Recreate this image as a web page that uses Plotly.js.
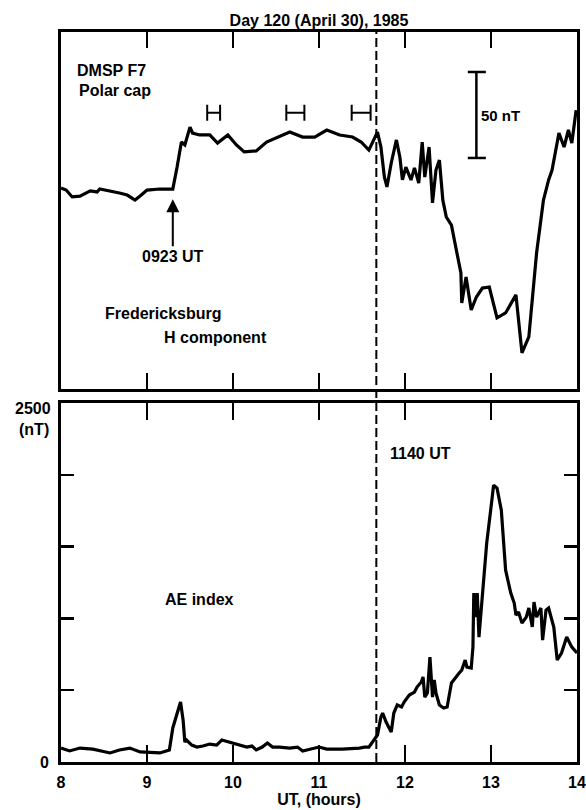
<!DOCTYPE html>
<html>
<head>
<meta charset="utf-8">
<script src="https://cdn.plot.ly/plotly-3.0.1.min.js"></script>
<style>html,body{margin:0;padding:0;background:#fff;}#chart{width:586px;height:810px;}</style>
</head>
<body>
<div id="chart"></div>
<script>
// ---- Fredericksburg H component (relative nT, 0 = bottom of panel) ----
const frHours = [8.00,8.06,8.13,8.22,8.34,8.42,8.45,8.57,8.68,8.77,8.86,8.92,9.00,9.15,9.30,9.35,9.40,9.44,9.47,9.50,9.53,9.61,9.73,9.82,9.94,10.04,10.13,10.27,10.39,10.54,10.66,10.81,10.95,11.09,11.24,11.39,11.49,11.58,11.68,11.72,11.76,11.79,11.84,11.90,11.94,11.97,12.01,12.07,12.11,12.16,12.20,12.23,12.28,12.32,12.36,12.40,12.44,12.48,12.54,12.59,12.65,12.66,12.71,12.77,12.83,12.90,12.98,13.07,13.17,13.29,13.36,13.44,13.53,13.61,13.67,13.71,13.79,13.85,13.90,13.94,13.99];
const frH = [117.1,115.9,111.9,112.4,115.4,114.8,116.5,115.4,114.2,113.0,110.1,112.4,115.9,116.5,116.5,129.3,143.9,142.2,148.0,152.6,149.1,148.0,148.0,143.3,148.0,142.2,138.1,138.7,143.9,147.4,149.7,146.8,146.8,150.9,148.0,146.8,143.9,139.2,149.7,141.0,123.5,117.7,131.7,145.1,135.2,121.8,129.3,121.8,128.8,120.0,143.9,123.5,141.0,108.4,127.6,133.4,110.0,100.2,95.5,82.7,67.6,50.1,65.3,46.0,53.6,58.8,59.4,41.4,44.3,54.8,21.0,30.3,79.2,110.1,121.8,127.6,149.1,141.0,150.9,143.3,162.5];

// ---- AE index (nT) ----
const aeHours = [8.00,8.10,8.22,8.37,8.57,8.68,8.80,8.92,9.15,9.26,9.30,9.36,9.39,9.42,9.44,9.46,9.52,9.58,9.65,9.73,9.81,9.87,9.96,10.08,10.16,10.22,10.27,10.34,10.40,10.46,10.54,10.66,10.75,10.81,10.89,11.00,11.09,11.27,11.47,11.53,11.58,11.64,11.68,11.72,11.74,11.78,11.84,11.87,11.91,11.96,11.99,12.05,12.11,12.14,12.19,12.21,12.23,12.26,12.29,12.32,12.34,12.36,12.40,12.45,12.49,12.54,12.59,12.63,12.66,12.70,12.72,12.77,12.79,12.80,12.83,12.84,12.86,12.90,12.95,13.01,13.03,13.07,13.12,13.17,13.23,13.27,13.29,13.32,13.36,13.41,13.44,13.48,13.50,13.53,13.58,13.60,13.64,13.67,13.73,13.77,13.82,13.88,13.94,14.00];
const aeValues = [97,77,97,90,63,84,97,70,63,84,237,362,418,292,139,153,118,104,111,125,118,153,139,118,104,111,84,104,132,104,104,97,104,77,90,104,90,90,97,104,104,153,188,313,341,278,209,341,397,383,418,466,487,522,557,592,452,480,731,452,571,480,397,376,383,550,592,620,640,710,661,654,800,1176,1009,1176,870,1176,1524,1823,1928,1907,1754,1336,1176,1107,1023,1044,967,1009,1072,940,1114,1009,1072,849,1058,1072,940,710,759,870,800,759];

// ---- DMSP F7 polar-cap pass intervals (UT hours) ----
const passStart = [9.70, 10.62, 11.38];
const passEnd   = [9.85, 10.83, 11.60];

// ---- axis ticks ----
const xTicks = [8, 9, 10, 11, 12, 13, 14];
const xTickText = ['8', '9', '10', '11', '12', '13', '14'];
const aeTicks = [0, 500, 1000, 1500, 2000, 2500];
const aeTickText = ['0', '', '', '', '', ''];

const onsetUT = 11 + 40/60;   // 1140 UT
const FONT = 'Liberation Sans, Arial, Helvetica, sans-serif';
const txt = (s, w) => ({family: FONT, size: s, color: '#000', weight: w || 'bold'});

const passMid = passStart.map((s, i) => (s + passEnd[i]) / 2);
const passHalf = passStart.map((s, i) => (passEnd[i] - s) / 2);

const traces = [
  {x: frHours, y: frH, xaxis: 'x2', yaxis: 'y2', mode: 'lines', type: 'scatter',
   line: {color: '#000', width: 3.2}, hoverinfo: 'skip', name: 'Fredericksburg H'},
  {x: passMid, y: passMid.map(() => 161), xaxis: 'x2', yaxis: 'y2', mode: 'markers', type: 'scatter',
   marker: {size: 0.1, color: 'rgba(0,0,0,0)'},
   error_x: {type: 'data', array: passHalf, symmetric: true, color: '#000', thickness: 2, width: 8},
   hoverinfo: 'skip', name: 'DMSP F7'},
  {x: aeHours, y: aeValues, xaxis: 'x', yaxis: 'y', mode: 'lines', type: 'scatter',
   line: {color: '#000', width: 3.2}, hoverinfo: 'skip', name: 'AE index'}
];

const frameAxis = {
  showline: true, linecolor: '#000', linewidth: 3, mirror: 'ticks',
  ticks: 'inside', tickcolor: '#000', tickwidth: 2.5, showgrid: false, zeroline: false
};

const layout = {
  width: 586, height: 810,
  margin: {l: 61, r: 9, t: 32, b: 48},
  paper_bgcolor: '#fff', plot_bgcolor: '#fff',
  showlegend: false,
  title: {text: 'Day 120 (April 30), 1985', font: txt(16), x: 0.5, xref: 'paper',
          y: 1 - 20/810, yref: 'container', yanchor: 'middle'},
  xaxis: Object.assign({}, frameAxis, {
    anchor: 'y', domain: [0, 1], range: [8, 14], tickmode: 'array',
    tickvals: xTicks, ticktext: xTickText, ticklen: 17, tickfont: txt(16),
    ticklabelstandoff: 4,
    title: {text: 'UT, (hours)', font: txt(16), standoff: 4}
  }),
  yaxis: Object.assign({}, frameAxis, {
    anchor: 'x', domain: [0, 0.4918], range: [0, 2500], tickmode: 'array',
    tickvals: aeTicks, ticktext: aeTickText, ticklen: 13, tickfont: txt(16),
    ticklabelstandoff: 6
  }),
  xaxis2: Object.assign({}, frameAxis, {
    anchor: 'y2', domain: [0, 1], range: [8, 14], tickmode: 'array',
    tickvals: xTicks, ticklen: 16, showticklabels: false
  }),
  yaxis2: Object.assign({}, frameAxis, {
    anchor: 'x2', domain: [0.511, 1], range: [0, 208], ticks: '', showticklabels: false
  }),
  shapes: [
    {type: 'line', xref: 'x', yref: 'paper', x0: onsetUT, x1: onsetUT, y0: 0, y1: 1,
     line: {color: '#000', width: 2, dash: '9px,4px'}},
    // 50 nT scale bar
    {type: 'line', xref: 'x2', yref: 'y2', x0: 12.83, x1: 12.83, y0: 134.6, y1: 184.7,
     line: {color: '#000', width: 2.5}},
    {type: 'line', xref: 'x2', yref: 'y2', x0: 12.73, x1: 12.94, y0: 184.7, y1: 184.7,
     line: {color: '#000', width: 2.5}},
    {type: 'line', xref: 'x2', yref: 'y2', x0: 12.73, x1: 12.94, y0: 134.6, y1: 134.6,
     line: {color: '#000', width: 2.5}}
  ],
  annotations: [
    {xref: 'x2', yref: 'y2', x: 12.86, y: 159.6, text: '50 nT', showarrow: false,
     xanchor: 'left', yanchor: 'middle', font: txt(15)},
    {xref: 'paper', yref: 'paper', x: 14/516, y: (762-71)/730, text: 'DMSP F7', showarrow: false,
     xanchor: 'left', yanchor: 'middle', font: txt(16)},
    {xref: 'paper', yref: 'paper', x: 16/516, y: (762-91)/730, text: 'Polar cap', showarrow: false,
     xanchor: 'left', yanchor: 'middle', font: txt(16)},
    {xref: 'x2', yref: 'y2', x: 9.30, y: 110.5, text: '0923 UT', showarrow: true,
     ax: 0, ay: 57, arrowhead: 2, arrowsize: 1.3, arrowwidth: 2, arrowcolor: '#000',
     font: txt(16)},
    {xref: 'paper', yref: 'paper', x: 42/516, y: (762-313)/730, text: 'Fredericksburg', showarrow: false,
     xanchor: 'left', yanchor: 'middle', font: txt(16)},
    {xref: 'paper', yref: 'paper', x: 101/516, y: (762-337)/730, text: 'H component', showarrow: false,
     xanchor: 'left', yanchor: 'middle', font: txt(16)},
    {xref: 'paper', yref: 'paper', x: 327/516, y: (762-453)/730, text: '1140 UT', showarrow: false,
     xanchor: 'left', yanchor: 'middle', font: txt(16)},
    {xref: 'paper', yref: 'paper', x: 138/516, y: (762-599)/730, text: 'AE index', showarrow: false,
     xanchor: 'center', yanchor: 'middle', font: txt(16)},
    {xref: 'paper', yref: 'paper', x: -8/516, y: (762-408)/730, text: '2500', showarrow: false,
     xanchor: 'right', yanchor: 'middle', font: txt(16)},
    {xref: 'paper', yref: 'paper', x: -10/516, y: (762-429)/730, text: '(nT)', showarrow: false,
     xanchor: 'right', yanchor: 'middle', font: txt(16)}
  ]
};

Plotly.newPlot('chart', traces, layout, {displayModeBar: false, staticPlot: true});
</script>
</body>
</html>
